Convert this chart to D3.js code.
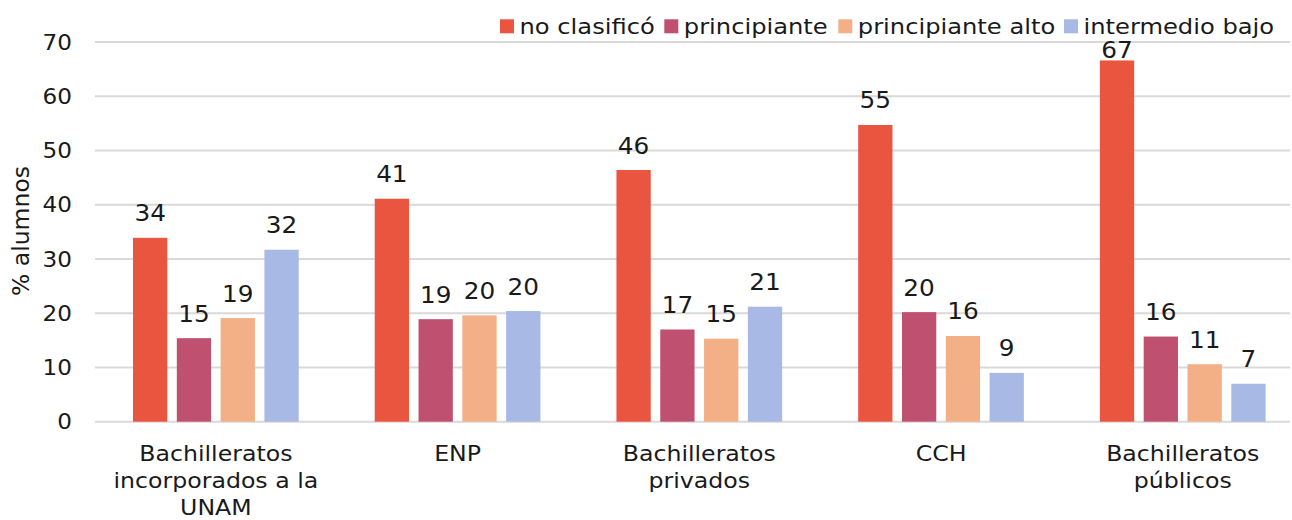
<!DOCTYPE html>
<html>
<head>
<meta charset="utf-8">
<script src="https://cdn.jsdelivr.net/npm/d3@7"></script>
<style>
  html, body { margin: 0; padding: 0; background: #fff; }
  svg { display: block; font-family: "DejaVu Sans", Verdana, sans-serif; }
</style>
</head>
<body>
<svg id="chart" width="1292" height="520"></svg>
<script>
// School types (x categories), each label split into display lines
const categories = [
  "Bachilleratos incorporados a la UNAM",
  "ENP",
  "Bachilleratos privados",
  "CCH",
  "Bachilleratos públicos"
];
const categoryLines = [
  ["Bachilleratos", "incorporados a la", "UNAM"],
  ["ENP"],
  ["Bachilleratos", "privados"],
  ["CCH"],
  ["Bachilleratos", "públicos"]
];

// Levels (series) and their percentage of students per school type
const seriesNames = ["no clasificó", "principiante", "principiante alto", "intermedio bajo"];
const noClasifico        = [33.9, 41.1, 46.4, 54.7, 66.6];
const principiante       = [15.4, 18.9, 17.0, 20.2, 15.7];
const principianteAlto   = [19.1, 19.6, 15.3, 15.8, 10.6];
const intermedioBajo     = [31.7, 20.4, 21.2,  9.0,  7.0];
const seriesValues = [noClasifico, principiante, principianteAlto, intermedioBajo];
const seriesColors = ["#EA5540", "#BF5070", "#F3AF85", "#A8B9E5"];

// Y axis ticks
const yTicks = [0, 10, 20, 30, 40, 50, 60, 70];
const yTitle = "% alumnos";

const svg = d3.select("#chart");
const plotLeft = 95, plotRight = 1290, plotTop = 42, plotBottom = 421.7;
const textColor = "#1a1a1a";
const stretch = 1.1; // horizontal widening of the lettering

const y = d3.scaleLinear().domain([0, 70]).range([plotBottom, plotTop]);
const x0 = d3.scaleBand().domain(categories).range([plotLeft, 1303.6]).padding(0);
const groupWidth = 165.7;
const x1 = d3.scaleBand().domain(seriesNames).range([0, groupWidth]).paddingInner(0.217).paddingOuter(0);

// Gridlines
svg.append("g").selectAll("line").data(yTicks).join("line")
  .attr("x1", plotLeft).attr("x2", plotRight)
  .attr("y1", d => y(d)).attr("y2", d => y(d))
  .attr("stroke", "#d9d9d9").attr("stroke-width", 2);

// Y tick labels
svg.append("g").selectAll("text").data(yTicks).join("text")
  .attr("transform", d => `translate(72,${y(d)}) scale(${stretch},1)`)
  .attr("dy", "0.36em")
  .attr("text-anchor", "end")
  .attr("font-size", 21).attr("fill", textColor)
  .text(d => d);

// Y axis title
svg.append("text")
  .attr("transform", `translate(29,231) rotate(-90)`)
  .attr("text-anchor", "middle")
  .attr("font-size", 23.5).attr("fill", textColor)
  .text(yTitle);

// Flatten to bar records
const bars = [];
categories.forEach((c, ci) => {
  seriesNames.forEach((s, si) => {
    bars.push({ cat: c, series: s, si, value: seriesValues[si][ci] });
  });
});
const barX = d => x0(d.cat) + x0.bandwidth() / 2 - groupWidth / 2 + x1(d.series);

svg.append("g").selectAll("rect").data(bars).join("rect")
  .attr("x", barX)
  .attr("y", d => y(d.value))
  .attr("width", x1.bandwidth())
  .attr("height", d => y(0) - y(d.value))
  .attr("fill", d => seriesColors[d.si]);

// Value labels above bars (kept below the legend row)
svg.append("g").selectAll("text").data(bars).join("text")
  .attr("transform", d => {
    const cx = barX(d) + x1.bandwidth() / 2;
    const ty = Math.max(y(d.value) - 16.5, plotTop + 16);
    return `translate(${cx},${ty}) scale(${stretch},1)`;
  })
  .attr("text-anchor", "middle")
  .attr("font-size", 22.5).attr("fill", textColor)
  .text(d => d3.format(".0f")(d.value));

// Category labels
const catG = svg.append("g").selectAll("text").data(categories).join("text")
  .attr("text-anchor", "middle")
  .attr("font-size", 21.5).attr("fill", textColor)
  .attr("transform", d => `translate(${x0(d) + x0.bandwidth() / 2},0) scale(${stretch},1)`);
catG.selectAll("tspan").data((d, i) => categoryLines[i]).join("tspan")
  .attr("x", 0)
  .attr("y", (d, i) => 461 + i * 27)
  .text(d => d);

// Legend
const legendX = [500, 664.3, 838.3, 1064];
const legend = svg.append("g").selectAll("g").data(seriesNames).join("g")
  .attr("transform", (d, i) => `translate(${legendX[i]},0)`);
legend.append("rect")
  .attr("x", 0).attr("y", 19.3).attr("width", 14).attr("height", 14)
  .attr("fill", (d, i) => seriesColors[i]);
legend.append("text")
  .attr("transform", `translate(19.5,34) scale(${stretch},1)`)
  .attr("font-size", 22).attr("fill", textColor)
  .text(d => d);
</script>
</body>
</html>
